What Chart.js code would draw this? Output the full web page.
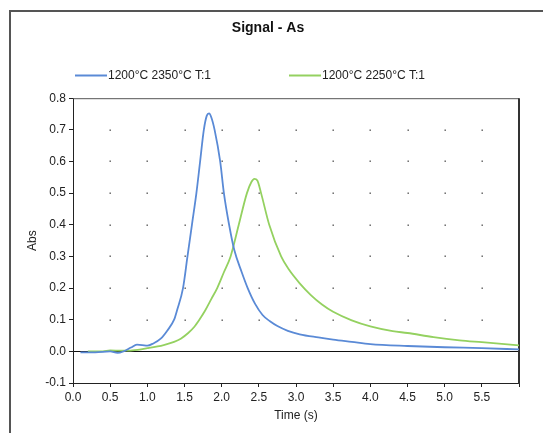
<!DOCTYPE html>
<html>
<head>
<meta charset="utf-8">
<script src="https://cdn.jsdelivr.net/npm/chart.js@4"></script>
<style>
  html, body { margin: 0; padding: 0; background: #fff; overflow: hidden; }
  #wrap { position: relative; width: 543px; height: 433px; overflow: hidden; }
  #frame { position: absolute; left: 9px; top: 10px; width: 534px; height: 423px; border-top: 2px solid #555; border-left: 2px solid #555; box-sizing: border-box; }
  canvas { position: absolute; left: 0; top: 0; }
</style>
</head>
<body>
<div id="wrap">
  <div id="frame"></div>
  <canvas id="grafica" width="543" height="433"></canvas>
</div>
<script>
// ================= DATOS =================
const tituloGrafica = "Signal - As";
const etiquetaX = "Time (s)";
const etiquetaY = "Abs";

const serieAzulNombre = "1200°C 2350°C T:1";
const serieAzulTiempo = [0.10, 0.30, 0.50, 0.60, 0.68, 0.78, 0.86, 0.93, 1.00, 1.08, 1.18, 1.27, 1.36, 1.40, 1.48, 1.54, 1.60, 1.66, 1.71, 1.76, 1.80, 1.83, 1.86, 1.905, 1.98, 2.03, 2.10, 2.17, 2.27, 2.35, 2.45, 2.55, 2.65, 2.75, 2.89, 3.05, 3.30, 3.50, 3.75, 4.00, 4.50, 5.00, 5.50, 6.00];
const serieAzulAbs = [-0.003, -0.003, 0.000, -0.005, 0.000, 0.012, 0.021, 0.020, 0.018, 0.025, 0.040, 0.066, 0.100, 0.130, 0.200, 0.300, 0.400, 0.500, 0.600, 0.700, 0.745, 0.752, 0.740, 0.700, 0.600, 0.500, 0.400, 0.320, 0.250, 0.200, 0.150, 0.115, 0.095, 0.080, 0.065, 0.054, 0.044, 0.037, 0.030, 0.023, 0.017, 0.013, 0.010, 0.006];

const serieVerdeNombre = "1200°C 2250°C T:1";
const serieVerdeTiempo = [0.20, 0.40, 0.50, 0.65, 0.80, 1.00, 1.22, 1.36, 1.45, 1.55, 1.63, 1.70, 1.78, 1.86, 1.94, 2.03, 2.12, 2.23, 2.34, 2.40, 2.44, 2.48, 2.53, 2.64, 2.80, 2.90, 3.05, 3.20, 3.35, 3.50, 3.75, 4.00, 4.30, 4.50, 4.85, 5.20, 5.50, 6.00];
const serieVerdeAbs = [0.000, 0.000, 0.003, 0.002, 0.003, 0.010, 0.020, 0.030, 0.040, 0.058, 0.077, 0.100, 0.130, 0.165, 0.200, 0.250, 0.300, 0.400, 0.500, 0.535, 0.545, 0.540, 0.500, 0.400, 0.300, 0.260, 0.215, 0.178, 0.148, 0.125, 0.098, 0.079, 0.064, 0.058, 0.045, 0.035, 0.029, 0.019];

const ejeX = { min: 0, max: 6.0, paso: 0.5 };
const ejeY = { min: -0.1, max: 0.8, paso: 0.1 };

const FUENTE = "'Liberation Sans', Arial, sans-serif";

function aPuntos(xs, ys) {
  return xs.map((x, i) => ({ x, y: ys[i] }));
}

// ================= PLUGIN PUNTOS DE REJILLA + MARCO =================
const rejillaPuntos = {
  id: "rejillaPuntos",
  beforeDatasetsDraw(chart) {
    const { ctx, chartArea: a, scales: { x, y } } = chart;
    ctx.save();
    ctx.fillStyle = "#555";
    x.ticks.forEach(tx => {
      const px = Math.round(x.getPixelForValue(tx.value));
      if (px <= a.left + 1 || px >= a.right - 1) return;
      y.ticks.forEach(ty => {
        const py = Math.round(y.getPixelForValue(ty.value));
        if (py <= a.top + 1 || py >= a.bottom - 1 || Math.abs(ty.value) < 1e-9) return;
        ctx.fillRect(px - 0.5, py - 0.5, 1.4, 1.4);
      });
    });
    // marco superior y derecho
    ctx.strokeStyle = "#555";
    ctx.lineWidth = 1;
    ctx.beginPath();
    ctx.moveTo(a.left, a.top + 0.5);
    ctx.lineTo(a.right, a.top + 0.5);
    ctx.stroke();
    ctx.strokeStyle = "#333";
    ctx.lineWidth = 2;
    ctx.beginPath();
    ctx.moveTo(a.right, a.top);
    ctx.lineTo(a.right, a.bottom + 1);
    ctx.stroke();
    ctx.restore();
  }
};

// ================= PLUGIN LEYENDA =================
const leyendaManual = {
  id: "leyendaManual",
  afterDraw(chart) {
    const { ctx } = chart;
    const inicios = [75, 289];
    ctx.save();
    ctx.font = "12px " + FUENTE;
    ctx.textBaseline = "middle";
    ctx.textAlign = "left";
    chart.data.datasets.forEach((ds, i) => {
      const x0 = inicios[i];
      const yL = 75.5;
      ctx.strokeStyle = ds.borderColor;
      ctx.lineWidth = 2;
      ctx.beginPath();
      ctx.moveTo(x0, yL);
      ctx.lineTo(x0 + 32, yL);
      ctx.stroke();
      ctx.fillStyle = "#222";
      ctx.fillText(ds.label, x0 + 33, yL);
    });
    ctx.restore();
  }
};

// ================= CHART =================
const ctx = document.getElementById("grafica").getContext("2d");

new Chart(ctx, {
  type: "line",
  data: {
    datasets: [
      {
        label: serieAzulNombre,
        data: aPuntos(serieAzulTiempo, serieAzulAbs),
        borderColor: "#5a8ad6",
        borderWidth: 1.8,
        pointRadius: 0,
        cubicInterpolationMode: "monotone",
        fill: false
      },
      {
        label: serieVerdeNombre,
        data: aPuntos(serieVerdeTiempo, serieVerdeAbs),
        borderColor: "#94d160",
        borderWidth: 1.8,
        pointRadius: 0,
        cubicInterpolationMode: "monotone",
        fill: false
      }
    ]
  },
  plugins: [rejillaPuntos, leyendaManual],
  options: {
    responsive: false,
    animation: false,
    layout: { padding: { left: 17, right: 24, top: 10, bottom: 0 } },
    plugins: {
      legend: { display: false },
      tooltip: { enabled: false },
      title: {
        display: true,
        text: tituloGrafica,
        color: "#111",
        font: { family: FUENTE, size: 14, weight: "bold" },
        padding: { top: 10, bottom: 61.4 }
      }
    },
    scales: {
      x: {
        type: "linear",
        min: ejeX.min,
        max: ejeX.max,
        afterFit(scale) { scale.height = 50; },
        afterBuildTicks(scale) {
          const t = [];
          for (let v = ejeX.min; v <= ejeX.max + 1e-9; v += ejeX.paso) t.push({ value: +v.toFixed(2) });
          scale.ticks = t;
        },
        ticks: {
          color: "#222",
          font: { family: FUENTE, size: 12 },
          padding: 3,
          maxRotation: 0,
          autoSkip: false,
          callback: v => v >= ejeX.max - 1e-9 ? "" : v.toFixed(1)
        },
        grid: { drawOnChartArea: false, drawTicks: true, tickLength: 4, tickColor: "#222" },
        border: { display: true, color: "#222", width: 1 },
        title: {
          display: true,
          text: etiquetaX,
          color: "#222",
          font: { family: FUENTE, size: 12 },
          padding: { top: 0, bottom: 10.4 }
        }
      },
      y: {
        type: "linear",
        min: ejeY.min,
        max: ejeY.max,
        afterFit(scale) { scale.width = 56; },
        afterBuildTicks(scale) {
          const t = [];
          for (let v = ejeY.min; v <= ejeY.max + 1e-9; v += ejeY.paso) t.push({ value: +v.toFixed(2) });
          scale.ticks = t;
        },
        ticks: {
          color: "#222",
          font: { family: FUENTE, size: 12 },
          padding: 3,
          callback: v => v.toFixed(1)
        },
        grid: {
          drawOnChartArea: true,
          drawTicks: true,
          tickLength: 4,
          tickColor: "#222",
          color: c => (c.tick && Math.abs(c.tick.value) < 1e-9) ? "#111" : "rgba(0,0,0,0)",
          lineWidth: 1
        },
        border: { display: true, color: "#222", width: 1 },
        title: {
          display: true,
          text: etiquetaY,
          color: "#222",
          font: { family: FUENTE, size: 12 },
          padding: { top: 8.4, bottom: 0 }
        }
      }
    }
  }
});
</script>
</body>
</html>
